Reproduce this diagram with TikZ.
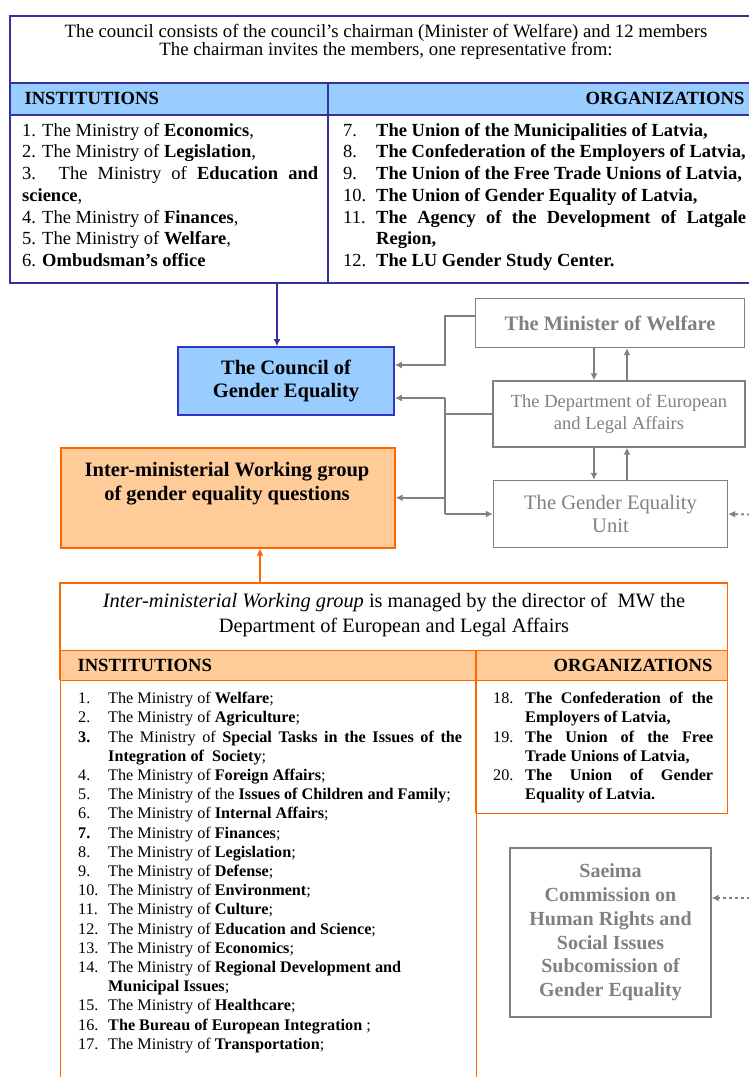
\documentclass[tikz,border=0pt]{standalone}
\usepackage{fontspec}
\setmainfont{Liberation Serif}
\usepackage{xcolor}
\usetikzlibrary{arrows.meta,calc}
\definecolor{deepblue}{RGB}{51,51,153}
\definecolor{midblue}{RGB}{51,51,204}
\definecolor{paleblue}{RGB}{153,204,255}
\definecolor{boxgray}{RGB}{128,128,128}
\definecolor{wgorange}{RGB}{255,102,0}
\definecolor{peach}{RGB}{255,204,153}
\newcommand{\toplist}{\fontsize{18.5}{21.7}\selectfont}
\newcommand{\lowlist}{\fontsize{16.2}{19.2}\selectfont}
\newcommand{\headcaps}{\bfseries\fontsize{18.6}{18.6}\selectfont}

\begin{document}
\begin{tikzpicture}[x=1pt,y=-1pt]
% frame styles
\tikzstyle{blue frame}=[draw=deepblue,line width=1.6pt,inner sep=0pt,anchor=north west]
\tikzstyle{orange frame}=[draw=wgorange,line width=1.4pt,inner sep=0pt,anchor=north west]
% box styles
\tikzstyle{blue box}=[draw=midblue,fill=paleblue,line width=1.6pt,align=center,minimum width=216pt,minimum height=68pt,font=\bfseries\fontsize{20.5}{23}\selectfont]
\tikzstyle{gray box}=[draw=boxgray,line width=1.3pt,text=boxgray,align=center,inner sep=0pt]
\tikzstyle{orange box}=[draw=wgorange,fill=peach,line width=1.6pt,inner sep=0pt,anchor=north west]
% connector styles
\tikzstyle{gray arrow}=[draw=boxgray,line width=1.8pt,-{Latex[length=7pt,width=7pt]}]
\tikzstyle{gray line}=[draw=boxgray,line width=1.8pt]
\useasboundingbox (0,0) rectangle (749,1077);
\clip (0,0) rectangle (749,1077);
% helper lines
\coordinate (top split) at (328,0);
\coordinate (low split) at (476,0);
\coordinate (blue drop) at (277,0);
\coordinate (orange rise) at (260,0);
\coordinate (trunk) at (445,0);
\coordinate (down line) at (594,0);
\coordinate (up line) at (627,0);
\coordinate (unit feed) at (768,515);
\coordinate (saeima feed) at (768,898);

% The council members table
\node[blue frame,minimum width=754pt,minimum height=267pt] (council list) at (9,15) {};
\node[align=center,font=\fontsize{18.8}{18}\selectfont] (council intro) at (386,42)
{The council consists of the council's chairman (Minister of Welfare) and 12 members\\
The chairman invites the members, one representative from:};
\node[blue frame,fill=paleblue,minimum width=754pt,minimum height=32pt] (council head) at (9,82) {};
\draw[deepblue,line width=1.6pt] (council head.north -| top split) -- (council list.south -| top split);
\node[anchor=base west,font=\headcaps] (council inst) at (21,104.5) {INSTITUTIONS};
\node[anchor=base east,font=\headcaps] (council org) at (748,104.5) {ORGANIZATIONS};
\node[anchor=north west,inner sep=0pt,align=left,font=\toplist] (council inst list) at (22,123)
{1. The Ministry of \textbf{Economics},\\
2. The Ministry of \textbf{Legislation},\\
\makebox[296pt][s]{3. The Ministry of \textbf{Education and}}\\
\textbf{science},\\
4. The Ministry of \textbf{Finances},\\
5. The Ministry of \textbf{Welfare},\\
6. \textbf{Ombudsman's office}};
\node[anchor=north west,inner sep=0pt,align=left,font=\toplist] (council org list) at (343,123)
{\makebox[33pt][l]{7.}\textbf{The Union of the Municipalities of Latvia,}\\
\makebox[33pt][l]{8.}\textbf{The Confederation of the Employers of Latvia,}\\
\makebox[33pt][l]{9.}\textbf{The Union of the Free Trade Unions of Latvia,}\\
\makebox[33pt][l]{10.}\textbf{The Union of Gender Equality of Latvia,}\\
\makebox[33pt][l]{11.}\makebox[370pt][s]{\textbf{The Agency of the Development of Latgale}}\\
\hspace*{33pt}\textbf{Region,}\\
\makebox[33pt][l]{12.}\textbf{The LU Gender Study Center.}};

% The council and the ministry
\node[blue box] (council) at (286,381) {The Council of\\Gender Equality};
\node[gray box,minimum width=269pt,minimum height=49pt,font=\bfseries\fontsize{20.5}{22}\selectfont] (minister) at (610,323) {The Minister of Welfare};
\node[gray box,minimum width=252pt,minimum height=66pt,font=\fontsize{18.5}{22}\selectfont] (department) at (619,414) {The Department of European\\and Legal Affairs};
\node[gray box,minimum width=234pt,minimum height=67pt,font=\fontsize{20.6}{23}\selectfont] (unit) at (610.5,514) {The Gender Equality\\Unit};
\node[orange box,minimum width=334pt,minimum height=100pt] (working group) at (60,447) {};
\node[anchor=north,align=center,font=\bfseries\fontsize{20.5}{24}\selectfont] (working group text) at (227,459)
{Inter-ministerial Working group\\of gender equality questions};

% The working group table
\node[inner sep=0pt,anchor=north west,minimum width=667pt,minimum height=230pt] (wg list) at (60,583) {};
\node[orange frame,minimum width=416pt,minimum height=420pt] (wg inst column) at (60,680) {};
\node[orange frame,fill=peach,minimum width=667pt,minimum height=30pt] (wg head) at (60,650) {};
\draw[wgorange,line width=1.4pt] (wg list.south -| low split) -- (wg list.south east) -- (wg list.north east)
  -- (wg list.north west) -- (wg inst column.north west);
\draw[wgorange,line width=1.4pt] (wg head.north -| low split) -- (wg list.south -| low split);
\node[align=center,font=\fontsize{20.4}{25}\selectfont] (wg intro) at (394,615)
{\textit{Inter-ministerial Working group} is managed by the director of\ \ MW the\\
Department of European and Legal Affairs};
\node[anchor=base west,font=\headcaps] (wg inst) at (74,671.5) {INSTITUTIONS};
\node[anchor=base east,font=\headcaps] (wg org) at (716,671.5) {ORGANIZATIONS};
\node[anchor=north west,inner sep=0pt,align=left,font=\lowlist] (wg inst list) at (78,692)
{\makebox[30pt][l]{1.}The Ministry of \textbf{Welfare};\\
\makebox[30pt][l]{2.}The Ministry of \textbf{Agriculture};\\
\makebox[30pt][l]{\textbf{3.}}\makebox[354pt][s]{The Ministry of \textbf{Special Tasks in the Issues of the}}\\
\hspace*{30pt}\textbf{Integration of\ \ Society};\\
\makebox[30pt][l]{4.}The Ministry of \textbf{Foreign Affairs};\\
\makebox[30pt][l]{5.}The Ministry of the \textbf{Issues of Children and Family};\\
\makebox[30pt][l]{6.}The Ministry of \textbf{Internal Affairs};\\
\makebox[30pt][l]{\textbf{7.}}The Ministry of \textbf{Finances};\\
\makebox[30pt][l]{8.}The Ministry of \textbf{Legislation};\\
\makebox[30pt][l]{9.}The Ministry of \textbf{Defense};\\
\makebox[30pt][l]{10.}The Ministry of \textbf{Environment};\\
\makebox[30pt][l]{11.}The Ministry of \textbf{Culture};\\
\makebox[30pt][l]{12.}The Ministry of \textbf{Education and Science};\\
\makebox[30pt][l]{13.}The Ministry of \textbf{Economics};\\
\makebox[30pt][l]{14.}The Ministry of \textbf{Regional Development and}\\
\hspace*{30pt}\textbf{Municipal Issues};\\
\makebox[30pt][l]{15.}The Ministry of \textbf{Healthcare};\\
\makebox[30pt][l]{16.}\textbf{The Bureau of European Integration} ;\\
\makebox[30pt][l]{17.}The Ministry of \textbf{Transportation};};
\node[anchor=north west,inner sep=0pt,align=left,font=\lowlist] (wg org list) at (493,692)
{\makebox[32pt][l]{18.}\makebox[188pt][s]{\textbf{The Confederation of the}}\\
\hspace*{32pt}\textbf{Employers of Latvia,}\\
\makebox[32pt][l]{19.}\makebox[188pt][s]{\textbf{The Union of the Free}}\\
\hspace*{32pt}\textbf{Trade Unions of Latvia,}\\
\makebox[32pt][l]{20.}\makebox[188pt][s]{\textbf{The Union of Gender}}\\
\hspace*{32pt}\textbf{Equality of Latvia.}};

% Saeima
\node[gray box,minimum width=201pt,minimum height=169pt,font=\bfseries\fontsize{20}{23.8}\selectfont] (saeima) at (610.5,932.5)
{Saeima\\Commission on\\Human Rights and\\Social Issues\\Subcomission of\\Gender Equality};

% connectors
\draw[deepblue,line width=1.6pt,-{Latex[length=7pt,width=7pt]}] (council list.south -| blue drop) -- (council.north -| blue drop);
\draw[wgorange,line width=1.6pt,-{Latex[length=7pt,width=7pt]}] (wg list.north -| orange rise) -- (working group.south -| orange rise);
\draw[gray arrow] ([yshift=7pt]minister.west) -| ([yshift=16pt]council.east -| trunk) -- ([yshift=16pt]council.east);
\draw[gray line] (department.west) -- (department.west -| trunk);
\draw[gray line] ([yshift=-17pt]council.east -| trunk) -- (unit.west -| trunk);
\draw[gray arrow] ([yshift=-17pt]council.east -| trunk) -- ([yshift=-17pt]council.east);
\draw[gray arrow] (working group.east -| trunk) -- (working group.east);
\draw[gray arrow] (unit.west -| trunk) -- (unit.west);
\draw[gray arrow] (minister.south -| down line) -- (department.north -| down line);
\draw[gray arrow] (department.north -| up line) -- (minister.south -| up line);
\draw[gray arrow] (department.south -| down line) -- (unit.north -| down line);
\draw[gray arrow] (unit.north -| up line) -- (department.south -| up line);
\draw[gray arrow,dashed] (unit feed) -- (unit.east);
\draw[gray arrow,dashed] (saeima feed) -- (saeima.east |- saeima feed);
\end{tikzpicture}
\end{document}
